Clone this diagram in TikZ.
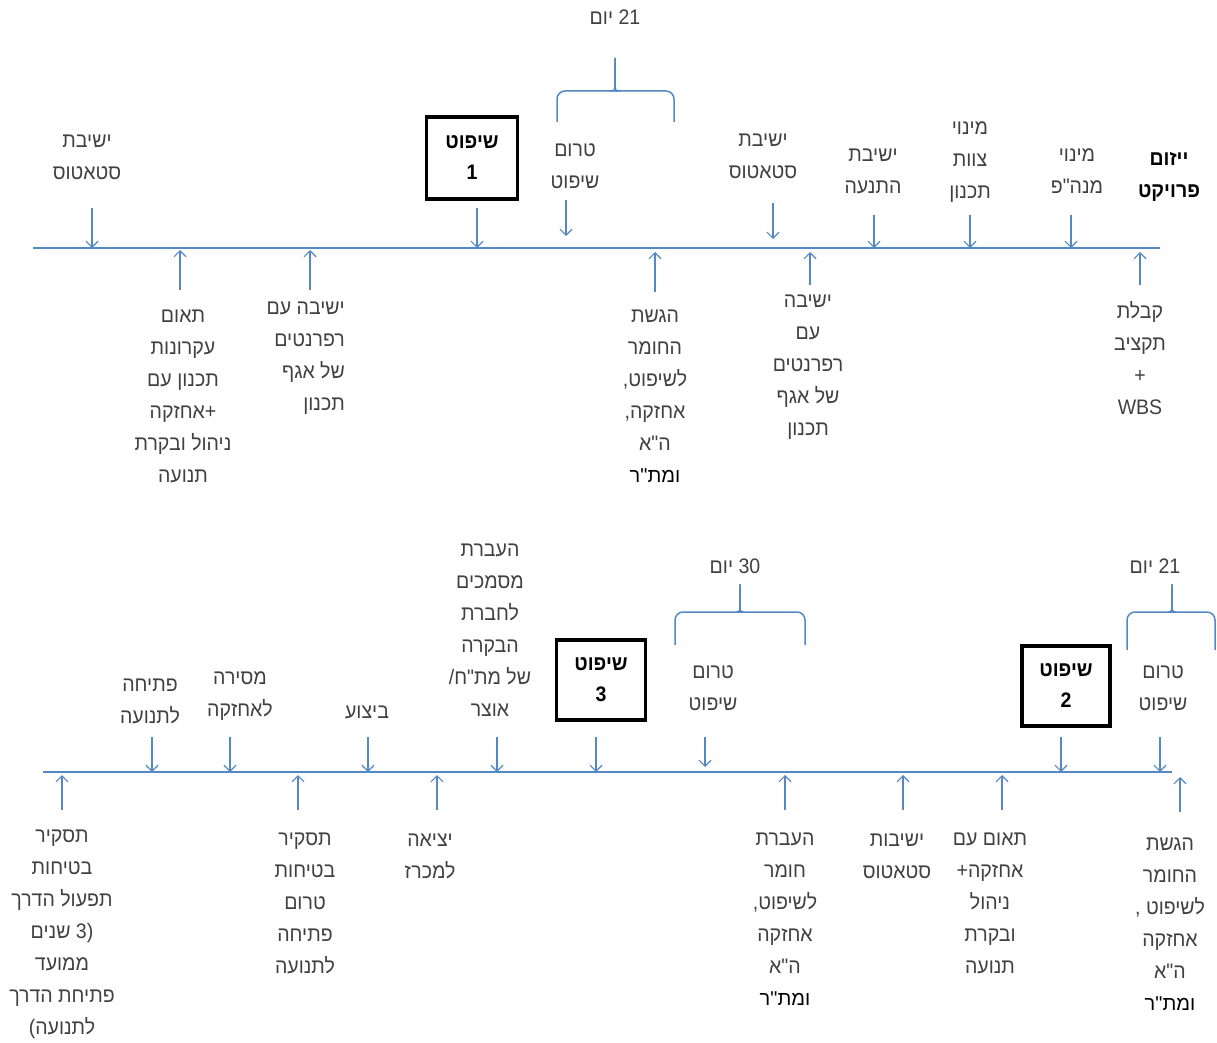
\documentclass[tikz,border=0pt]{standalone}
\usepackage{fontspec}
\usetikzlibrary{arrows.meta}
\TeXXeTstate=1
\newfontfamily\heb[Script=Hebrew,FakeStretch=0.93]{Liberation Sans}
\newfontfamily\hebw[Script=Hebrew]{Liberation Sans}
\newcommand\rl[1]{\beginR #1\endR}
\newcommand\blk[1]{{\color{black}\hebw\fontsize{20}{31}\selectfont\rl{#1}}}
\definecolor{tl}{RGB}{84,136,196}
\definecolor{txt}{RGB}{64,64,64}
\begin{document}
\begin{tikzpicture}[x=1pt,y=-1pt,
  lbl/.style={font=\heb\fontsize{21}{32}\selectfont, text=txt, align=center, inner sep=0pt},
  lblr/.style={lbl, align=right},
  title/.style={lbl, text=black, font=\heb\bfseries\fontsize{21}{32}\selectfont},
  judge/.style={draw=black, line width=3.5pt, text=black, font=\heb\bfseries\fontsize{21}{31}\selectfont,
    align=center, inner sep=0pt},
  arr/.style={draw=tl, line width=1.2pt, -{Straight Barb[length=6pt,width=12pt]}},
  tline/.style={draw=tl, line width=1.5pt},
  brc/.style={draw=tl, line width=1.5pt, rounded corners=8pt}]
\useasboundingbox (0,0) rectangle (1217,1043);

% ---------- first row ----------
\coordinate (L1a) at (33,248);
\coordinate (L1b) at (1160,248);
\draw[tline] (L1a) -- (L1b);

\node[lbl] (t1) at (87,157) {\rl{ישיבת}\\\rl{סטאטוס}};
\coordinate (t1s) at (92,208); \coordinate (t1e) at (92,248);
\draw[arr] (t1s) -- (t1e);

\node[judge, minimum width=91pt, minimum height=82pt] (b1) at (472,158) {\rl{שיפוט}\\\rl{1}};
\coordinate (b1s) at (477,208); \coordinate (b1e) at (477,248);
\draw[arr] (b1s) -- (b1e);

\node[lbl] (t3) at (575,166) {\rl{טרום}\\\rl{שיפוט}};
\coordinate (t3s) at (566,200); \coordinate (t3e) at (566,236);
\draw[arr] (t3s) -- (t3e);

% 21-day span over the pre-judging stage
\node[lbl] (d1) at (615,17) {\rl{21 יום}};
\coordinate (d1l) at (557,122); \coordinate (d1t) at (615,58); \coordinate (d1r) at (674,122);
\draw[brc] (d1l) -- (557,91) -- (610,91) [sharp corners] .. controls (614,91) and (615,88) .. (d1t);
\draw[brc] (d1r) -- (674,91) -- (620,91) [sharp corners] .. controls (616,91) and (615,88) .. (d1t);

\node[lbl] (t5) at (763,156) {\rl{ישיבת}\\\rl{סטאטוס}};
\coordinate (t5s) at (773,203); \coordinate (t5e) at (773,239);
\draw[arr] (t5s) -- (t5e);

\node[lbl] (t6) at (873,171) {\rl{ישיבת}\\\rl{התנעה}};
\coordinate (t6s) at (874,215); \coordinate (t6e) at (874,248);
\draw[arr] (t6s) -- (t6e);

\node[lbl] (t7) at (970,162) {\rl{מינוי}\\\rl{צוות}\\\rl{תכנון}};
\coordinate (t7s) at (970,215); \coordinate (t7e) at (970,248);
\draw[arr] (t7s) -- (t7e);

\node[lbl] (t8) at (1077,171) {\rl{מינוי}\\\rl{מנה"פ}};
\coordinate (t8s) at (1071,215); \coordinate (t8e) at (1071,248);
\draw[arr] (t8s) -- (t8e);

\node[title] (t9) at (1169,177) {\rl{ייזום}\\\rl{פרויקט}};

\node[lbl] (u1) at (183,396) {\rl{תאום}\\\rl{עקרונות}\\\rl{תכנון עם}\\\rl{+אחזקה}\\\rl{ניהול ובקרת}\\\rl{תנועה}};
\coordinate (u1s) at (180,290); \coordinate (u1e) at (180,250);
\draw[arr] (u1s) -- (u1e);

\node[lblr, anchor=east] (u2) at (345,358) {\rl{ישיבה עם}\\\rl{רפרנטים}\\\rl{של אגף}\\\rl{תכנון}};
\coordinate (u2s) at (310,290); \coordinate (u2e) at (310,250);
\draw[arr] (u2s) -- (u2e);

\node[lbl] (u3) at (655,396) {\rl{הגשת}\\\rl{החומר}\\\rl{לשיפוט,}\\\rl{אחזקה,}\\\rl{ה"א}\\\blk{ומת"ר}};
\coordinate (u3s) at (655,292); \coordinate (u3e) at (655,252);
\draw[arr] (u3s) -- (u3e);

\node[lbl] (u4) at (808,367) {\rl{ישיבה}\\\rl{עם}\\\rl{רפרנטים}\\\rl{של אגף}\\\rl{תכנון}};
\coordinate (u4s) at (810,285); \coordinate (u4e) at (810,252);
\draw[arr] (u4s) -- (u4e);

\node[lbl] (u5) at (1140,358) {\rl{קבלת}\\\rl{תקציב}\\\rl{+}\\\rl{WBS}};
\coordinate (u5s) at (1140,285); \coordinate (u5e) at (1140,252);
\draw[arr] (u5s) -- (u5e);

% ---------- second row ----------
\coordinate (L2a) at (43,772);
\coordinate (L2b) at (1172,772);
\draw[tline] (L2a) -- (L2b);

\node[lbl] (s1) at (150,701) {\rl{פתיחה}\\\rl{לתנועה}};
\coordinate (s1s) at (152,737); \coordinate (s1e) at (152,772);
\draw[arr] (s1s) -- (s1e);

\node[lbl] (s2) at (240,696) {\rl{מסירה}\\\rl{לאחזקה}};
\coordinate (s2s) at (230,737); \coordinate (s2e) at (230,772);
\draw[arr] (s2s) -- (s2e);

\node[lbl] (s3) at (367,712) {\rl{ביצוע}};
\coordinate (s3s) at (368,737); \coordinate (s3e) at (368,772);
\draw[arr] (s3s) -- (s3e);

\node[lbl] (s4) at (490,630) {\rl{העברת}\\\rl{מסמכים}\\\rl{לחברת}\\\rl{הבקרה}\\\rl{של מת"ח/}\\\rl{אוצר}};
\coordinate (s4s) at (497,737); \coordinate (s4e) at (497,772);
\draw[arr] (s4s) -- (s4e);

\node[judge, minimum width=89pt, minimum height=80pt] (b3) at (601,680) {\rl{שיפוט}\\\rl{3}};
\coordinate (b3s) at (596,737); \coordinate (b3e) at (596,772);
\draw[arr] (b3s) -- (b3e);

\node[lbl] (s6) at (713,688) {\rl{טרום}\\\rl{שיפוט}};
\coordinate (s6s) at (705,737); \coordinate (s6e) at (705,767);
\draw[arr] (s6s) -- (s6e);

% 30-day span over the pre-judging stage
\node[lbl] (d2) at (735,566) {\rl{30 יום}};
\coordinate (d2l) at (675,645); \coordinate (d2t) at (740,584); \coordinate (d2r) at (805,645);
\draw[brc] (d2l) -- (675,612) -- (735,612) [sharp corners] .. controls (739,612) and (740,609) .. (d2t);
\draw[brc] (d2r) -- (805,612) -- (745,612) [sharp corners] .. controls (741,612) and (740,609) .. (d2t);

\node[judge, minimum width=88pt, minimum height=80pt] (b2) at (1066,686) {\rl{שיפוט}\\\rl{2}};
\coordinate (b2s) at (1061,737); \coordinate (b2e) at (1061,772);
\draw[arr] (b2s) -- (b2e);

\node[lbl] (s8) at (1163,688) {\rl{טרום}\\\rl{שיפוט}};
\coordinate (s8s) at (1160,737); \coordinate (s8e) at (1160,772);
\draw[arr] (s8s) -- (s8e);

% 21-day span over the pre-judging stage
\node[lbl] (d3) at (1155,566) {\rl{21 יום}};
\coordinate (d3l) at (1127,650); \coordinate (d3t) at (1172,584); \coordinate (d3r) at (1215,650);
\draw[brc] (d3l) -- (1127,612) -- (1167,612) [sharp corners] .. controls (1171,612) and (1172,609) .. (d3t);
\draw[brc] (d3r) -- (1215,612) -- (1177,612) [sharp corners] .. controls (1173,612) and (1172,609) .. (d3t);

\node[lbl] (v1) at (62,934) {\rl{תסקיר}\\\rl{בטיחות}\\\rl{תפעול הדרך}\\\rl{(3 שנים}\\\rl{ממועד}\\\rl{פתיחת הדרך}\\\rl{לתנועה)}};
\coordinate (v1s) at (62,810); \coordinate (v1e) at (62,775);
\draw[arr] (v1s) -- (v1e);

\node[lbl] (v2) at (305,903) {\rl{תסקיר}\\\rl{בטיחות}\\\rl{טרום}\\\rl{פתיחה}\\\rl{לתנועה}};
\coordinate (v2s) at (298,810); \coordinate (v2e) at (298,775);
\draw[arr] (v2s) -- (v2e);

\node[lbl] (v3) at (430,856) {\rl{יציאה}\\\rl{למכרז}};
\coordinate (v3s) at (437,810); \coordinate (v3e) at (437,775);
\draw[arr] (v3s) -- (v3e);

\node[lbl] (v4) at (785,919) {\rl{העברת}\\\rl{חומר}\\\rl{לשיפוט,}\\\rl{אחזקה}\\\rl{ה"א}\\\blk{ומת"ר}};
\coordinate (v4s) at (785,810); \coordinate (v4e) at (785,775);
\draw[arr] (v4s) -- (v4e);

\node[lbl] (v5) at (897,856) {\rl{ישיבות}\\\rl{סטאטוס}};
\coordinate (v5s) at (903,810); \coordinate (v5e) at (903,775);
\draw[arr] (v5s) -- (v5e);

\node[lbl] (v6) at (990,903) {\rl{תאום עם}\\\rl{אחזקה+}\\\rl{ניהול}\\\rl{ובקרת}\\\rl{תנועה}};
\coordinate (v6s) at (1002,810); \coordinate (v6e) at (1002,775);
\draw[arr] (v6s) -- (v6e);

\node[lbl] (v7) at (1170,924) {\rl{הגשת}\\\rl{החומר}\\\rl{לשיפוט ,}\\\rl{אחזקה}\\\rl{ה"א}\\\blk{ומת"ר}};
\coordinate (v7s) at (1180,812); \coordinate (v7e) at (1180,777);
\draw[arr] (v7s) -- (v7e);
\end{tikzpicture}
\end{document}
